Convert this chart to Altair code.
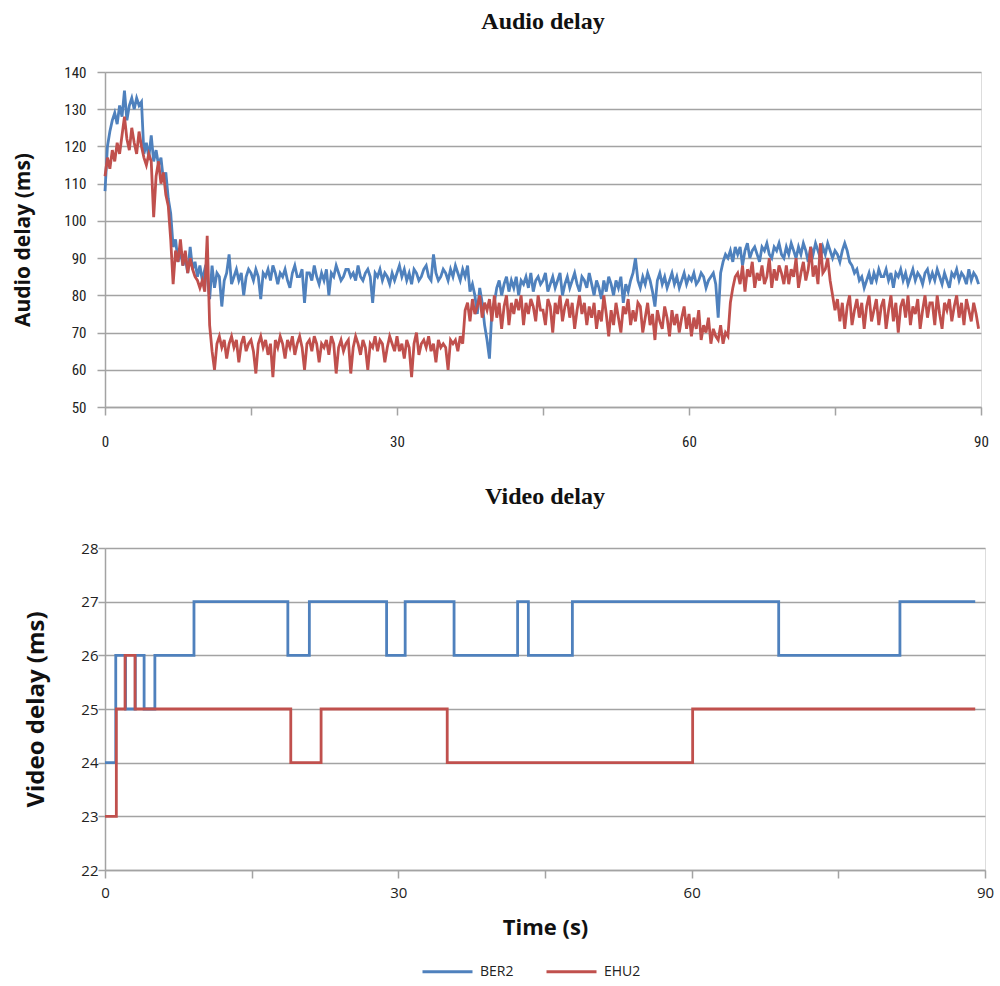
import altair as alt
import pandas as pd

BLUE = "#4F81BD"
RED = "#C0504D"

# ---------------- Audio delay (sampled every 0.25 s) ----------------
t_audio = [i * 0.25 for i in range(360)]

ber2_audio = [
    108, 120, 124, 127, 129, 126, 131, 128, 135, 127, 131, 133, 130, 133, 131, 132, 118, 121, 117, 123,
    116, 119, 115, 117, 111, 113, 106, 102, 93, 95, 89, 92, 88, 90, 86, 93, 87, 89, 85, 88,
    84, 87, 85, 79, 88, 82, 86, 85, 77, 84, 86, 91, 83, 85, 87, 84, 86, 80, 85, 87,
    86, 84, 87, 85, 79, 86, 85, 87, 84, 88, 86, 83, 86, 85, 87, 84, 82, 86, 88, 85,
    85, 87, 78, 86, 86, 84, 88, 85, 83, 86, 84, 87, 80, 86, 85, 88, 86, 84, 85, 87,
    87, 85, 86, 84, 88, 85, 84, 86, 87, 85, 78, 86, 85, 87, 84, 86, 85, 83, 86, 84,
    86, 88, 85, 87, 84, 86, 83, 87, 86, 84, 85, 87, 88, 85, 84, 91, 86, 84, 85, 87,
    86, 84, 87, 85, 88, 86, 84, 87, 85, 88, 81, 83, 80, 75, 82, 78, 72, 68, 63, 76,
    78, 82, 84, 80, 83, 85, 81, 84, 82, 85, 80, 84, 83, 85, 82, 86, 81, 84, 85, 83,
    84, 86, 81, 83, 85, 82, 84, 86, 80, 83, 85, 82, 84, 86, 83, 81, 85, 84, 82, 86,
    83, 80, 84, 82, 79, 84, 81, 85, 83, 80, 84, 82, 85, 78, 83, 81, 84, 86, 90, 84,
    82, 85, 83, 86, 84, 81, 77, 84, 86, 83, 85, 82, 84, 86, 83, 85, 82, 84, 86, 83,
    85, 84, 86, 83, 84, 86, 85, 82, 84, 85, 86, 83, 74, 86, 89, 91, 90, 92, 89, 93,
    91, 93, 88, 92, 94, 90, 92, 93, 91, 89, 93, 92, 94, 91, 90, 93, 92, 94, 91, 90,
    93, 91, 94, 92, 90, 93, 91, 94, 92, 89, 93, 91, 94, 92, 90, 93, 91, 94, 92, 90,
    92, 91, 89, 92, 94, 92, 89, 88, 86, 87, 84, 85, 82, 84, 86, 83, 86, 84, 87, 85,
    85, 87, 84, 86, 82, 86, 85, 87, 84, 86, 83, 85, 87, 84, 86, 85, 83, 86, 87, 84,
    86, 84, 87, 85, 83, 86, 84, 82, 86, 85, 87, 84, 86, 85, 83, 87, 84, 86, 85, 83,
]

ehu2_audio = [
    112, 117, 114, 119, 116, 121, 118, 123, 128, 122, 119, 125, 121, 118, 124, 120, 117, 115, 118, 116,
    101, 112, 116, 110, 113, 107, 104, 95, 83, 92, 89, 95, 88, 92, 86, 90, 87, 85, 84, 82,
    84, 81, 96, 72, 65, 60, 67, 69, 66, 68, 63, 67, 69, 66, 68, 62, 67, 69, 65, 67,
    68, 65, 59, 67, 69, 66, 68, 64, 67, 58, 68, 66, 69, 67, 63, 68, 66, 69, 64, 67,
    69, 66, 60, 67, 68, 65, 69, 67, 62, 67, 66, 68, 64, 69, 67, 59, 66, 68, 65, 67,
    68, 59, 66, 69, 67, 64, 68, 66, 60, 67, 66, 69, 65, 68, 67, 62, 66, 69, 67, 65,
    69, 65, 67, 63, 68, 66, 58, 67, 70, 64, 67, 68, 66, 69, 65, 67, 62, 68, 66, 67,
    66, 60, 68, 67, 68, 65, 69, 67, 76, 78, 73, 79, 75, 77, 80, 74, 78, 76, 79, 73,
    80, 74, 78, 71, 77, 80, 72, 78, 75, 79, 76, 80, 72, 78, 75, 79, 77, 73, 80, 76,
    76, 72, 79, 77, 70, 78, 75, 80, 73, 77, 79, 74, 78, 71, 76, 80, 75, 78, 72, 77,
    74, 78, 71, 76, 73, 80, 75, 69, 76, 72, 78, 74, 70, 77, 75, 79, 72, 76, 73, 78,
    77, 70, 74, 78, 72, 75, 68, 76, 73, 71, 77, 74, 69, 76, 72, 75, 70, 74, 77, 71,
    75, 69, 74, 71, 76, 68, 72, 70, 74, 67, 71, 69, 68, 72, 67, 70, 69, 78, 82, 85,
    86, 83, 88, 81, 87, 85, 89, 82, 86, 84, 88, 83, 85, 90, 82, 87, 84, 88, 86, 83,
    88, 83, 87, 85, 90, 82, 86, 89, 84, 87, 93, 85, 88, 83, 94, 86, 87, 90, 84, 80,
    76, 79, 73, 78, 71, 77, 80, 72, 76, 79, 74, 78, 71, 77, 80, 73, 76, 79, 72, 77,
    79, 71, 76, 80, 73, 78, 70, 77, 79, 74, 80, 72, 77, 75, 79, 71, 76, 80, 74, 78,
    78, 72, 80, 75, 71, 78, 76, 79, 73, 77, 80, 74, 78, 72, 79, 76, 73, 78, 75, 71,
]

# ---------------- Video delay (step changes) ----------------
ber2_video_t = [0, 1.1, 2.1, 3.1, 4.0, 5.1, 9.1, 18.7, 20.9, 28.8, 30.7, 35.7, 42.2, 43.3, 47.8, 68.9, 81.3, 89.0]
ber2_video_v = [24, 26, 25, 26, 25, 26, 27, 26, 27, 26, 27, 26, 27, 26, 27, 26, 27, 27]

ehu2_video_t = [0, 1.16, 2.05, 3.07, 19.0, 22.1, 35.0, 60.1, 89.0]
ehu2_video_v = [23, 25, 26, 25, 24, 25, 24, 25, 25]

series_names = ["BER2", "EHU2"]

audio_df = pd.DataFrame({
    "t": t_audio + t_audio,
    "v": ber2_audio + ehu2_audio,
    "series": [series_names[0]] * len(t_audio) + [series_names[1]] * len(t_audio),
})
video_df = pd.DataFrame({
    "t": ber2_video_t + ehu2_video_t,
    "v": ber2_video_v + ehu2_video_v,
    "series": [series_names[0]] * len(ber2_video_t) + [series_names[1]] * len(ehu2_video_t),
})

GRID = "#a3a3a3"
TXT = "#222222"
NARROW = "Liberation Sans Narrow, Arial Narrow, Roboto Condensed, Roboto, sans-serif"
x_ticks = [0, 15, 30, 45, 60, 75, 90]
label_expr = "datum.value % 30 == 0 ? datum.label : ''"

color = alt.Color(
    "series:N",
    scale=alt.Scale(domain=series_names, range=[BLUE, RED]),
    legend=alt.Legend(
        orient="none", legendX=331, legendY=888, direction="horizontal", title=None,
        symbolType="M-2.5,0H2.5", symbolStrokeWidth=3, symbolSize=400,
        labelFont="Open Sans", labelFontSize=14, labelColor=TXT,
        columnPadding=26, labelOffset=21, padding=0,
    ),
)

TOP_W, TOP_H = 876, 335
BOT_W, BOT_H = 880, 322

top = alt.Chart(
    audio_df,
    title=alt.Title("Audio delay", font="Liberation Serif", fontSize=24, fontWeight="bold",
                    color="#111", anchor="middle", baseline="bottom", offset=7),
).mark_line(strokeWidth=2.8).encode(
    x=alt.X("t:Q", scale=alt.Scale(domain=[0, 90], nice=False, zero=False),
            axis=alt.Axis(values=x_ticks, labelExpr=label_expr, grid=False, title=None,
                          labelFlush=False, tickSize=8, tickColor=GRID, tickWidth=1.5,
                          domainColor=GRID, domainWidth=1.5, labelPadding=19,
                          labelFont=NARROW, labelFontSize=15, labelColor=TXT)),
    y=alt.Y("v:Q", scale=alt.Scale(domain=[50, 140], nice=False),
            axis=alt.Axis(values=list(range(50, 141, 10)), grid=True, gridColor=GRID, gridWidth=1.5,
                          tickSize=8, tickColor=GRID, tickWidth=1.5, domainColor=GRID, domainWidth=1.5,
                          labelPadding=11, labelFlush=False,
                          labelFont=NARROW, labelFontSize=15, labelColor=TXT,
                          title="Audio delay (ms)", titleFont="Open Sans", titleFontSize=21,
                          titleFontWeight="bold", titleColor="#111", titleAngle=270,
                          titleX=-82, titleY=TOP_H / 2, titleBaseline="middle", titleAlign="center")),
    color=color,
).properties(width=TOP_W, height=TOP_H)

bottom = alt.Chart(
    video_df,
    title=alt.Title("Video delay", font="Liberation Serif", fontSize=24, fontWeight="bold",
                    color="#111", anchor="middle", baseline="bottom", offset=8),
).mark_line(strokeWidth=2.8, interpolate="step-after").encode(
    x=alt.X("t:Q", scale=alt.Scale(domain=[0, 90], nice=False, zero=False),
            axis=alt.Axis(values=x_ticks, labelExpr=label_expr, grid=False,
                          labelFlush=False, tickSize=8, tickColor=GRID, tickWidth=1.5,
                          domainColor=GRID, domainWidth=1.5, labelPadding=7,
                          labelFont="Open Sans", labelFontSize=15, labelColor=TXT,
                          title="Time (s)", titleFont="Open Sans", titleFontSize=22,
                          titleFontWeight="bold", titleColor="#111",
                          titleY=57, titleBaseline="middle")),
    y=alt.Y("v:Q", scale=alt.Scale(domain=[22, 28], nice=False, zero=False),
            axis=alt.Axis(values=list(range(22, 29)), grid=True, gridColor=GRID, gridWidth=1.5,
                          tickSize=7, tickColor=GRID, tickWidth=1.5, domainColor=GRID, domainWidth=1.5,
                          labelPadding=0, labelFlush=False,
                          labelFont="Open Sans", labelFontSize=15, labelColor=TXT,
                          title="Video delay (ms)", titleFont="Open Sans", titleFontSize=24,
                          titleFontWeight="bold", titleColor="#111", titleAngle=270,
                          titleX=-69, titleY=BOT_H / 2, titleBaseline="middle", titleAlign="center")),
    color=color,
).properties(width=BOT_W, height=BOT_H)

chart = alt.vconcat(top, bottom, spacing=141, bounds="flush").properties(
    padding={"left": 11, "top": 9, "right": 5, "bottom": 0},
).configure_view(stroke=None).configure(background="white")

chart.save("out.html", embed_options={"renderer": "svg", "actions": False})
